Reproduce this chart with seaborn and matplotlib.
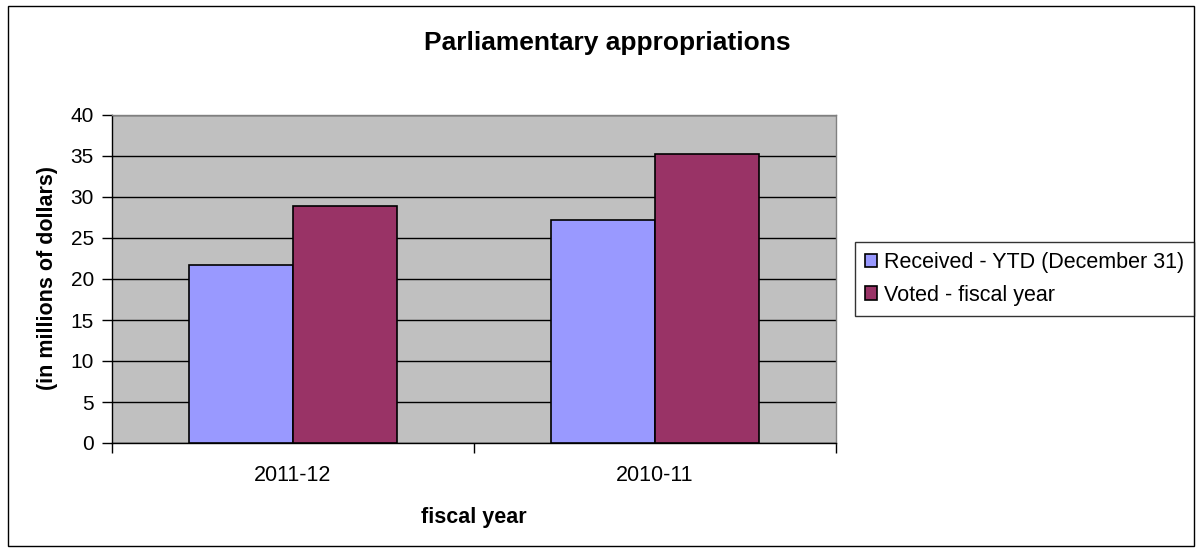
import matplotlib
matplotlib.use("Agg")
import matplotlib.pyplot as plt
import seaborn as sns
import pandas as pd
from matplotlib.patches import Rectangle

categories = ["2011-12", "2010-11"]
series_names = ["Received - YTD (December 31)", "Voted - fiscal year"]
received = [21.7, 27.2]
voted = [28.9, 35.2]
colors = ["#9999FF", "#993366"]

df = pd.DataFrame({
    "year": categories * 2,
    "value": received + voted,
    "series": [series_names[0]] * 2 + [series_names[1]] * 2,
})

sns.set_style("white")
plt.rcParams["font.family"] = ["Liberation Sans", "DejaVu Sans"]
plt.rcParams["text.color"] = "black"
plt.rcParams["xtick.color"] = "black"
plt.rcParams["ytick.color"] = "black"
plt.rcParams["axes.labelcolor"] = "black"

fig = plt.figure(figsize=(12.02, 5.51), dpi=100)
ax = fig.add_axes([112/1202, 1-443/551, 724/1202, 328/551])
ax.set_facecolor("#C0C0C0")

sns.barplot(data=df, x="year", y="value", hue="series", palette=colors,
            saturation=1, width=0.575, edgecolor="black", linewidth=1.2, ax=ax,
            legend=True, zorder=3)

ax.set_ylim(0, 40)
ax.set_xlim(-0.5, 1.5)
ax.set_yticks(range(0, 41, 5))
ax.yaxis.grid(True, color="black", linewidth=1, zorder=0)
ax.set_axisbelow(True)
ax.tick_params(axis="y", labelsize=15, length=7, width=1, direction="out", left=True,
               color="black", pad=6)
ax.set_xticks([0, 1])
ax.set_xticklabels(categories)
ax.tick_params(axis="x", which="major", length=0, labelsize=15.5, pad=16)
ax.set_xticks([-0.5, 0.5, 1.5], minor=True)
ax.tick_params(axis="x", which="minor", length=7, width=1, direction="out", bottom=True,
               color="black")
for s in ["left", "bottom"]:
    ax.spines[s].set_color("black")
    ax.spines[s].set_linewidth(1)
for s in ["top", "right"]:
    ax.spines[s].set_color("#808080")
    ax.spines[s].set_linewidth(1)

ax.set_xlabel("")
ax.set_ylabel("")
fig.text(48/1202, 1-278/551, "(in millions of dollars)", rotation=90, fontsize=15.5,
         fontweight="bold", ha="center", va="center")
fig.text(474/1202, 1-517/551, "fiscal year", fontsize=15.5, fontweight="bold",
         ha="center", va="center")
fig.text(607/1202, 1-43/551, "Parliamentary appropriations", fontsize=19,
         fontweight="bold", ha="center", va="center")

handles, labels = ax.get_legend_handles_labels()
ax.legend_.remove()
leg = fig.legend(handles, labels, loc="center left", bbox_to_anchor=(855/1202, 1-279/551),
                 frameon=True, fancybox=False, edgecolor="black", fontsize=15.5,
                 handlelength=0.55, handleheight=0.6, handletextpad=0.35,
                 labelspacing=0.55, borderpad=0.45, borderaxespad=0)
leg.get_frame().set_linewidth(1)

fig.patches.append(Rectangle((8/1202, 5/551), 1186/1202, 540/551, transform=fig.transFigure,
                             fill=False, edgecolor="black", linewidth=1))

fig.savefig("out.png", dpi=100, facecolor="white")
